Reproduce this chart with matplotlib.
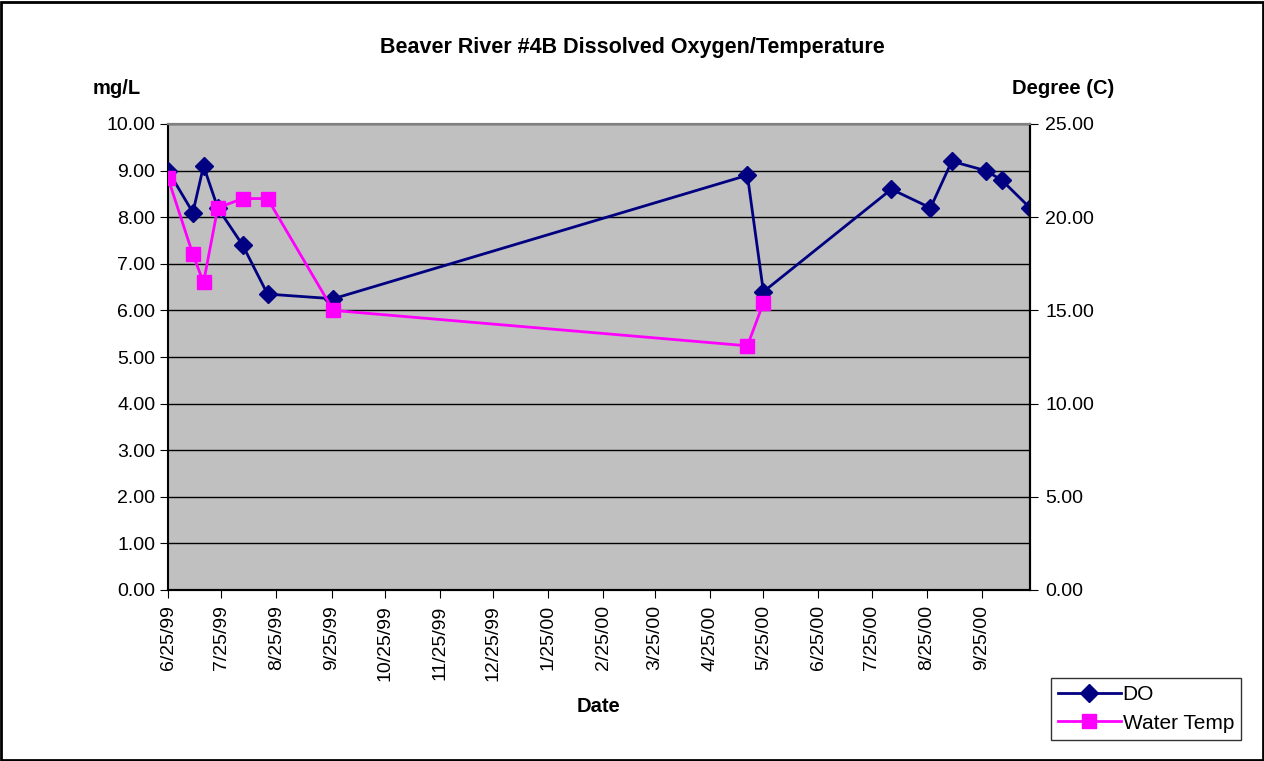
import matplotlib
matplotlib.use("Agg")
import matplotlib.pyplot as plt
import matplotlib.dates as mdates
from matplotlib.patches import Rectangle
import datetime as dt

plt.rcParams['font.family'] = ['Liberation Sans', 'DejaVu Sans']

do_dates = ["1999-06-25", "1999-07-09", "1999-07-15", "1999-07-23", "1999-08-06",
            "1999-08-20", "1999-09-26", "2000-05-16", "2000-05-25", "2000-08-05",
            "2000-08-27", "2000-09-08", "2000-09-27", "2000-10-06", "2000-10-22"]
do_values = [9.0, 8.1, 9.1, 8.2, 7.4, 6.35, 6.25, 8.9, 6.4, 8.6, 8.2, 9.2, 9.0, 8.8, 8.2]

temp_dates = ["1999-06-25", "1999-07-09", "1999-07-15", "1999-07-23", "1999-08-06",
              "1999-08-20", "1999-09-26", "2000-05-16", "2000-05-25"]
temp_values = [22.1, 18.0, 16.5, 20.5, 21.0, 21.0, 15.0, 13.1, 15.4]

title = "Beaver River #4B Dissolved Oxygen/Temperature"

def to_dt(s):
    return [dt.datetime.strptime(x, "%Y-%m-%d") for x in s]

do_x = to_dt(do_dates)
temp_x = to_dt(temp_dates)

W, H = 1264, 761
fig = plt.figure(figsize=(W / 100, H / 100), dpi=100)
ax = fig.add_axes([168 / W, 1 - 590 / H, (1030 - 168) / W, (590 - 124) / H])
ax.set_facecolor('#C0C0C0')
ax2 = ax.twinx()

fs = 14
fl = 14.5
navy = '#000080'
pink = '#FF00FF'

ax.plot(do_x, do_values, color=navy, lw=2, marker='D', ms=9, label='DO', zorder=3)
ax2.plot(temp_x, temp_values, color=pink, lw=2, marker='s', ms=10, label='Water Temp', zorder=3)

ax.set_ylim(0, 10)
ax2.set_ylim(0, 25)
ax.set_yticks([i for i in range(11)])
ax.set_yticklabels([f"{v:.2f}" for v in ax.get_yticks()], fontsize=fs)
ax2.set_yticks([i * 5 for i in range(6)])
ax2.set_yticklabels([f"{v:.2f}" for v in ax2.get_yticks()], fontsize=fs)
ax.yaxis.grid(True, color='black', lw=1)
ax.set_axisbelow(True)

ax.set_xlim(do_x[0], do_x[-1])
ax.xaxis.set_major_locator(mdates.MonthLocator(bymonthday=25))
ax.xaxis.set_major_formatter(plt.FuncFormatter(
    lambda v, p: (lambda d: f"{d.month}/{d.day}/{d.strftime('%y')}")(mdates.num2date(v))))
ax.tick_params(axis='x', labelrotation=90, labelsize=fs, length=6, direction='out', pad=5)
ax.tick_params(axis='y', length=6, direction='out', pad=3)
ax2.tick_params(axis='y', length=6, direction='out', pad=5)

ax.spines['top'].set_color('#808080')
ax2.spines['top'].set_color('#808080')
ax.spines['left'].set_color('black')
ax2.spines['right'].set_color('black')
ax.spines['bottom'].set_color('black')
for a in (ax, ax2):
    for sp in a.spines.values():
        sp.set_linewidth(1.5)
ax2.spines['left'].set_visible(False)

fig.text(632 / W, 1 - 48 / H, title, ha='center', va='center', fontsize=15.5, fontweight='bold')
fig.text(117 / W, 1 - 88 / H, "mg/L", ha='center', va='center', fontsize=fl, fontweight='bold')
fig.text(1063 / W, 1 - 88 / H, "Degree (C)", ha='center', va='center', fontsize=fl, fontweight='bold')
fig.text(598 / W, 1 - 707 / H, "Date", ha='center', va='center', fontsize=fl, fontweight='bold')

h1, l1 = ax.get_legend_handles_labels()
h2, l2 = ax2.get_legend_handles_labels()
leg = fig.legend(h1 + h2, l1 + l2, loc='center', bbox_to_anchor=(1146 / W, 1 - 709 / H),
                 fontsize=15, frameon=True, fancybox=False, edgecolor='black',
                 handlelength=3.0, borderpad=0.35, labelspacing=0.45, handletextpad=0.1,
                 borderaxespad=0)
leg.get_frame().set_linewidth(1)

fig.patches.append(Rectangle((0.001, 0.001), 0.998, 0.997, transform=fig.transFigure,
                             fill=False, edgecolor='black', lw=2))

fig.savefig("out.png", dpi=100)
